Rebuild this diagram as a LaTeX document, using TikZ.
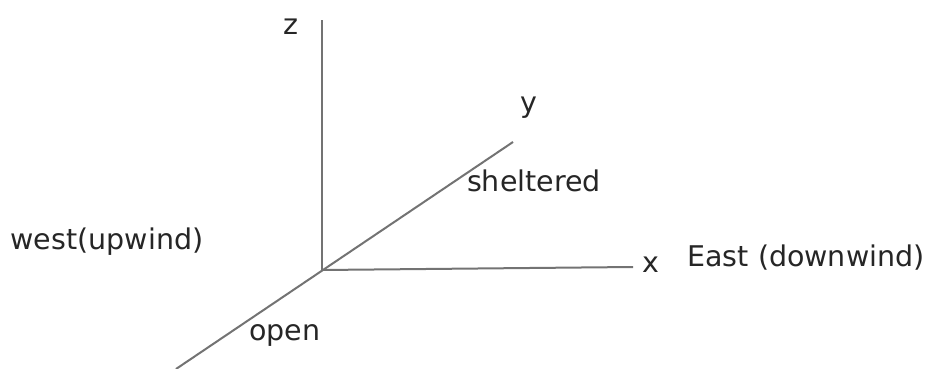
\documentclass[tikz,border=0pt]{standalone}
\usepackage{fontspec}
\setmainfont{DejaVu Sans}
\usetikzlibrary{positioning}

\begin{document}
\begin{tikzpicture}[
  x=1pt, y=-1pt,
  axis/.style={draw=black!55, line width=2pt},
  lbl/.style={font=\fontsize{28.5}{32}\selectfont, text=black!85, inner sep=0pt},
]
\useasboundingbox (0,0) rectangle (931,369);
% axes
\coordinate (o) at (322,270);
\coordinate (ztop) at (322,20);
\coordinate (xend) at (633,267);
\coordinate (yend) at (513,142);
\coordinate (ystart) at (176,369);
\draw[axis] (o) -- (ztop);
\draw[axis] (o) -- (xend);
\draw[axis] (ystart) -- (yend);
% labels
\node[lbl] (zlbl) at (291,27) {z};
\node[lbl] (xlbl) at (651,265) {x};
\node[lbl] (ylbl) at (529,108) {y};
\node[lbl] (east) at (806,258) {East (downwind)};
\node[lbl] (west) at (107,242) {west(upwind)};
\node[lbl] (shel) at (534,181) {sheltered};
\node[lbl] (open) at (285,335) {open};
\end{tikzpicture}
\end{document}
